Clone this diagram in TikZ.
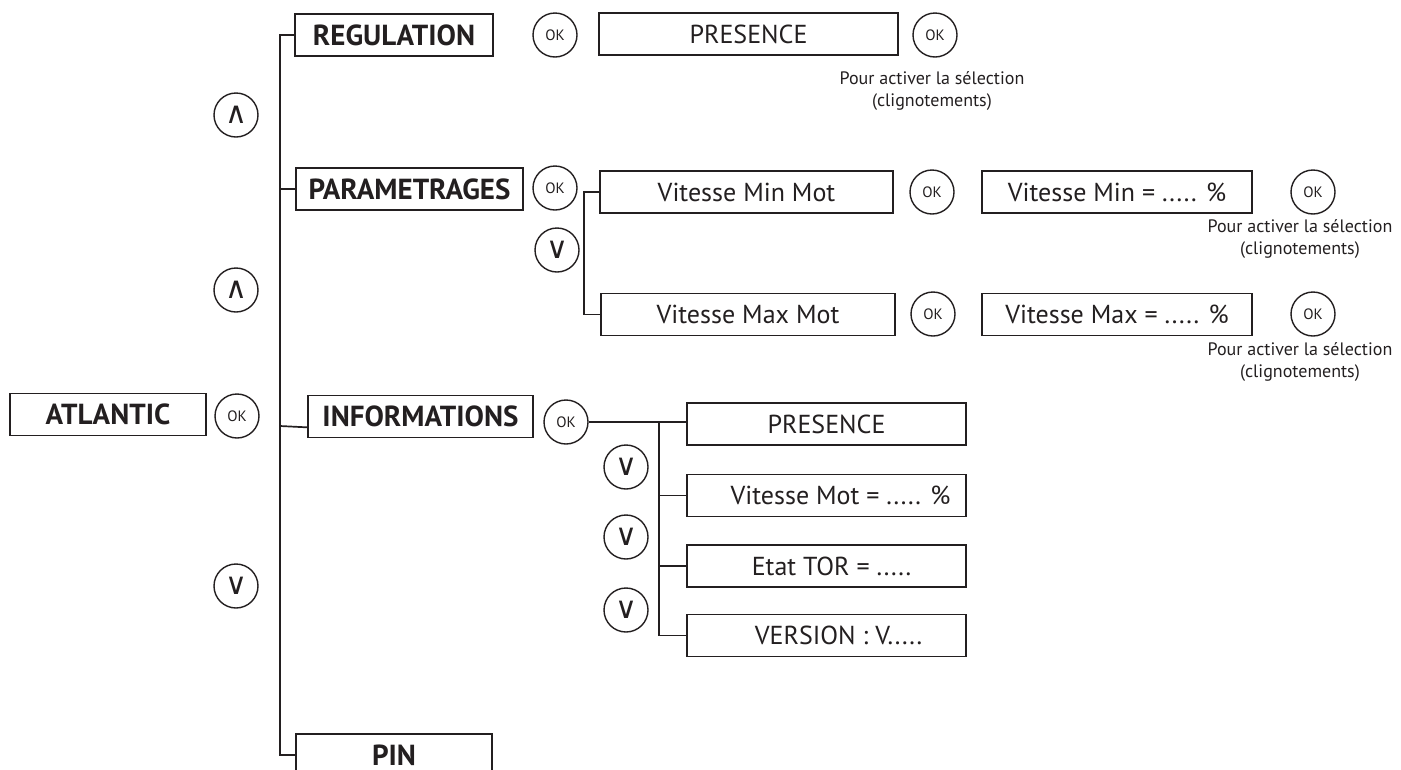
\documentclass[tikz,border=0pt]{standalone}
\usepackage{fontspec}
\setmainfont{PT Sans}
\newfontfamily\symfont{DejaVu Sans}
\definecolor{ink}{HTML}{231F20}
\begin{document}
\begin{tikzpicture}[x=1pt,y=-1pt,
  every node/.style={text=ink},
  box/.style={draw=ink, line width=1.7pt, minimum height=42pt, inner sep=0pt, font=\fontsize{26}{28}\selectfont},
  bbox/.style={box, font=\fontsize{29}{30}\selectfont\bfseries},
  btn/.style={circle, draw=ink, line width=1.4pt, minimum size=44pt, inner sep=0pt, font=\fontsize{15}{16}\selectfont},
  arr/.style={btn, font=\fontsize{30}{30}\symfont\selectfont},
  link/.style={draw=ink, line width=1.7pt},
  note/.style={align=center, font=\fontsize{18}{22}\selectfont, inner sep=0pt}
]
\useasboundingbox (0,0) rectangle (1401,769);
\clip (0,0) rectangle (1401,769);

% level 0
\node[bbox, minimum width=196pt] (atl) at (108,414.5) {ATLANTIC};
\node[btn] (okA) at (237,416) {OK};

% level 1
\node[bbox, minimum width=198pt] (reg) at (394,35) {REGULATION};
\node[bbox, minimum width=227pt] (par) at (409.5,189) {PARAMETRAGES};
\node[bbox, minimum width=225pt] (info) at (420.5,416.5) {INFORMATIONS};
\node[bbox, minimum width=196pt] (pin) at (394,755) {PIN};
\node[arr] (up1) at (236,115) {∧};
\node[arr] (up2) at (236,290) {∧};
\node[arr] (dn0) at (236,586) {∨};

% REGULATION row
\node[btn] (okR) at (555,35) {OK};
\node[box, minimum width=299pt] (pres1) at (748.5,34) {PRESENCE};
\node[btn] (okP) at (935,35) {OK};
\node[note] (n1) at (932,91) {Pour activer la sélection\\(clignotements)};

% PARAMETRAGES rows
\node[btn] (okPa) at (555,188) {OK};
\node[arr] (dn1) at (557,250) {∨};
\node[box, minimum width=293pt] (vminmot) at (746.5,192) {Vitesse Min Mot};
\node[btn] (okVm) at (932,192) {OK};
\node[box, minimum width=270pt] (vmin) at (1117,192) {Vitesse Min = ..... \%};
\node[btn] (okVm2) at (1313,192) {OK};
\node[note] (n2) at (1300,239) {Pour activer la sélection\\(clignotements)};
\node[box, minimum width=294pt] (vmaxmot) at (748,314.5) {Vitesse Max Mot};
\node[btn] (okVM) at (933,314) {OK};
\node[box, minimum width=270pt] (vmax) at (1117,314.5) {Vitesse Max = ..... \%};
\node[btn] (okVM2) at (1313,314) {OK};
\node[note] (n3) at (1300,362) {Pour activer la sélection\\(clignotements)};

% INFORMATIONS rows
\node[btn] (okI) at (566,422) {OK};
\node[box, minimum width=279pt] (pres2) at (826.5,424) {PRESENCE};
\node[box, minimum width=279pt] (vmot) at (826.5,495.5) {\hspace*{28pt}Vitesse Mot = ..... \%};
\node[box, minimum width=279pt] (tor) at (826.5,566) {\hspace*{10pt}Etat TOR = .....};
\node[box, minimum width=279pt] (ver) at (826.5,635.5) {\hspace*{24pt}VERSION : V.....};
\node[arr] (dn2) at (626,467) {∨};
\node[arr] (dn3) at (626,537) {∨};
\node[arr] (dn4) at (626,610) {∨};

% junction coordinates
\coordinate (tx) at (280,400);
\coordinate (jInfo) at (280,426);
\coordinate (jPar) at (584,250);
\coordinate (jI) at (659,422);

% main trunk
\draw[link] (reg.west) -| (tx) |- (pin.west);
\draw[link] (par.west) -- (par.west -| tx);
\draw[link] (info.south west) ++(0,-11) -- (jInfo);

% PARAMETRAGES bracket
\draw[link] (vminmot.west) -| (jPar) |- (vmaxmot.west);

% INFORMATIONS tree
\draw[link] (okI.east) -- (okI.east -| pres2.west);
\draw[link] (jI) |- (ver.west);
\draw[link] (vmot.west) -- (vmot.west -| jI);
\draw[link] (tor.west) -- (tor.west -| jI);
\end{tikzpicture}
\end{document}
